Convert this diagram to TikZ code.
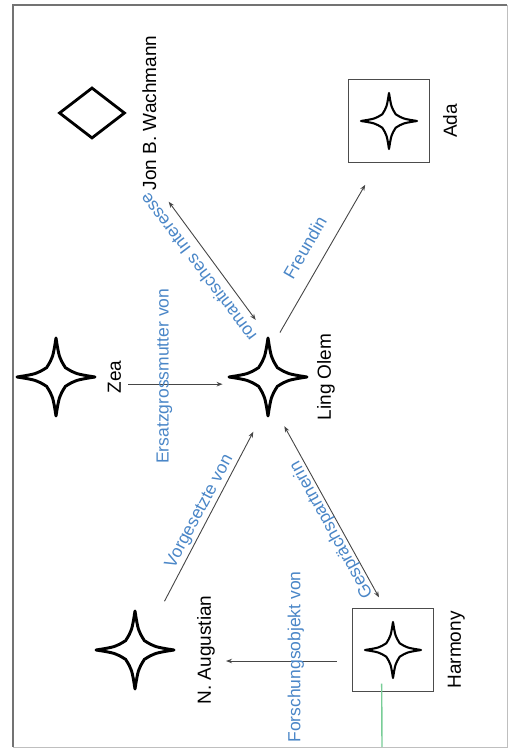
\documentclass[tikz,border=0pt]{standalone}
\usepackage{fontspec}
\setmainfont{Liberation Sans}
\usetikzlibrary{arrows.meta,positioning,shapes.geometric}

\definecolor{labelblau}{RGB}{74,134,199}
\definecolor{kantengrau}{RGB}{70,70,70}
\definecolor{linkgruen}{RGB}{120,205,150}

\tikzset{
  pics/vierstern/.style={code={
    \draw[line width=0.075*#1, line join=round]
      (0,#1) .. controls (0.08*#1,0.5*#1) .. (0.24*#1,0.24*#1) .. controls (0.5*#1,0.08*#1) .. (#1,0)
             .. controls (0.5*#1,-0.08*#1) .. (0.24*#1,-0.24*#1) .. controls (0.08*#1,-0.5*#1) .. (0,-#1)
             .. controls (-0.08*#1,-0.5*#1) .. (-0.24*#1,-0.24*#1) .. controls (-0.5*#1,-0.08*#1) .. (-#1,0)
             .. controls (-0.5*#1,0.08*#1) .. (-0.24*#1,0.24*#1) .. controls (-0.08*#1,0.5*#1) .. cycle;
  }},
  hub/.style={circle, minimum size=92pt, inner sep=0pt, outer sep=0pt},
  kasten/.style={draw=black!70, line width=1.2pt, minimum width=83pt, minimum height=81pt, inner sep=0pt},
  raute/.style={diamond, draw, line width=2.8pt, minimum width=51pt, minimum height=66pt, inner sep=0pt},
  figurname/.style={font=\fontsize{19}{22}\selectfont, inner sep=0pt, text height=13.6pt, text depth=4pt},
  rolle/.style={font=\fontsize{17.5}{20}\selectfont, text=labelblau, inner sep=0pt},
  kante/.style={draw=kantengrau, line width=0.9pt},
  gruenlinie/.style={draw=linkgruen, line width=1.4pt},
}

\begin{document}
\begin{tikzpicture}[x=1pt, y=1pt, >={Stealth[length=6pt,width=4.5pt]}]
\useasboundingbox (0,0) rectangle (511,749);
% frame
\draw[black!25, line width=0.8pt] (13,2) rectangle (507,744);
\draw[black!55, line width=1.4pt] (13,2) -- (13,744) -- (507,744);

\begin{scope}[shift={(511,0)}, rotate=90, transform shape]
% figures (position, etc.)
\path (372,243) node (ling)    [hub]    {} pic {vierstern=39};
\path (372,455) node (zea)     [hub]    {} pic {vierstern=39};
\path (99,376)  node (naug)    [hub]    {} pic {vierstern=39};
\path (628,122) node (ada)     [kasten] {} pic {vierstern=28};
\path (99,118)  node (harmony) [kasten] {} pic {vierstern=28};
\node (jon)     [raute] at (636,419)    {};

% names
\node (lingname)    [figurname, below=3pt of ling]     {Ling Olem};
\node (zeaname)     [figurname, below=5pt of zea]      {Zea};
\node (naugname)    [figurname, below=16pt of naug]    {N. Augustian};
\node (jonname)     [figurname, below=16pt of jon]     {Jon B. Wachmann};
\node (adaname)     [figurname, below=13pt of ada]     {Ada};
\node (harmonyname) [figurname, below=13pt of harmony] {Harmony};

% relations
\draw[->, kante, shorten <=27pt] (zea.261) -- node[rolle, pos=0.52, xshift=8pt]{Ersatzgrossmutter von} (ling.99);
\draw[<->, kante, shorten <=14pt, shorten >=14pt] (ling.5) -- node[rolle, rotate=37, above, inner sep=8.5pt, pos=0.52]{romantisches Interesse} (jonname.south west);
\draw[->, kante, shorten >=25pt] (ling.-15) -- node[rolle, rotate=-30, above, inner sep=14pt, pos=0.44]{Freundin} (ada.165);
\draw[->, kante, shorten <=11pt, shorten >=11pt] (naug.-32) -- node[rolle, rotate=-28, above, inner sep=2pt, pos=0.5]{Vorgesetzte von} (ling.168);
\draw[<->, kante, shorten <=12pt, shorten >=6pt] (harmony.11) -- node[rolle, rotate=29, above, inner sep=0pt, pos=0.44]{Gesprächspartnerin} (ling.197);
\draw[->, kante, shorten <=15pt, shorten >=11pt] (harmony.105) -- node[rolle, pos=0.41, xshift=4pt]{Forschungsobjekt von} (harmony.105 |- naugname.south);

\coordinate (rand) at (2,129);
\draw[gruenlinie, shorten <=-8.5pt] (harmony.165) -- (rand);
\end{scope}
\end{tikzpicture}
\end{document}
